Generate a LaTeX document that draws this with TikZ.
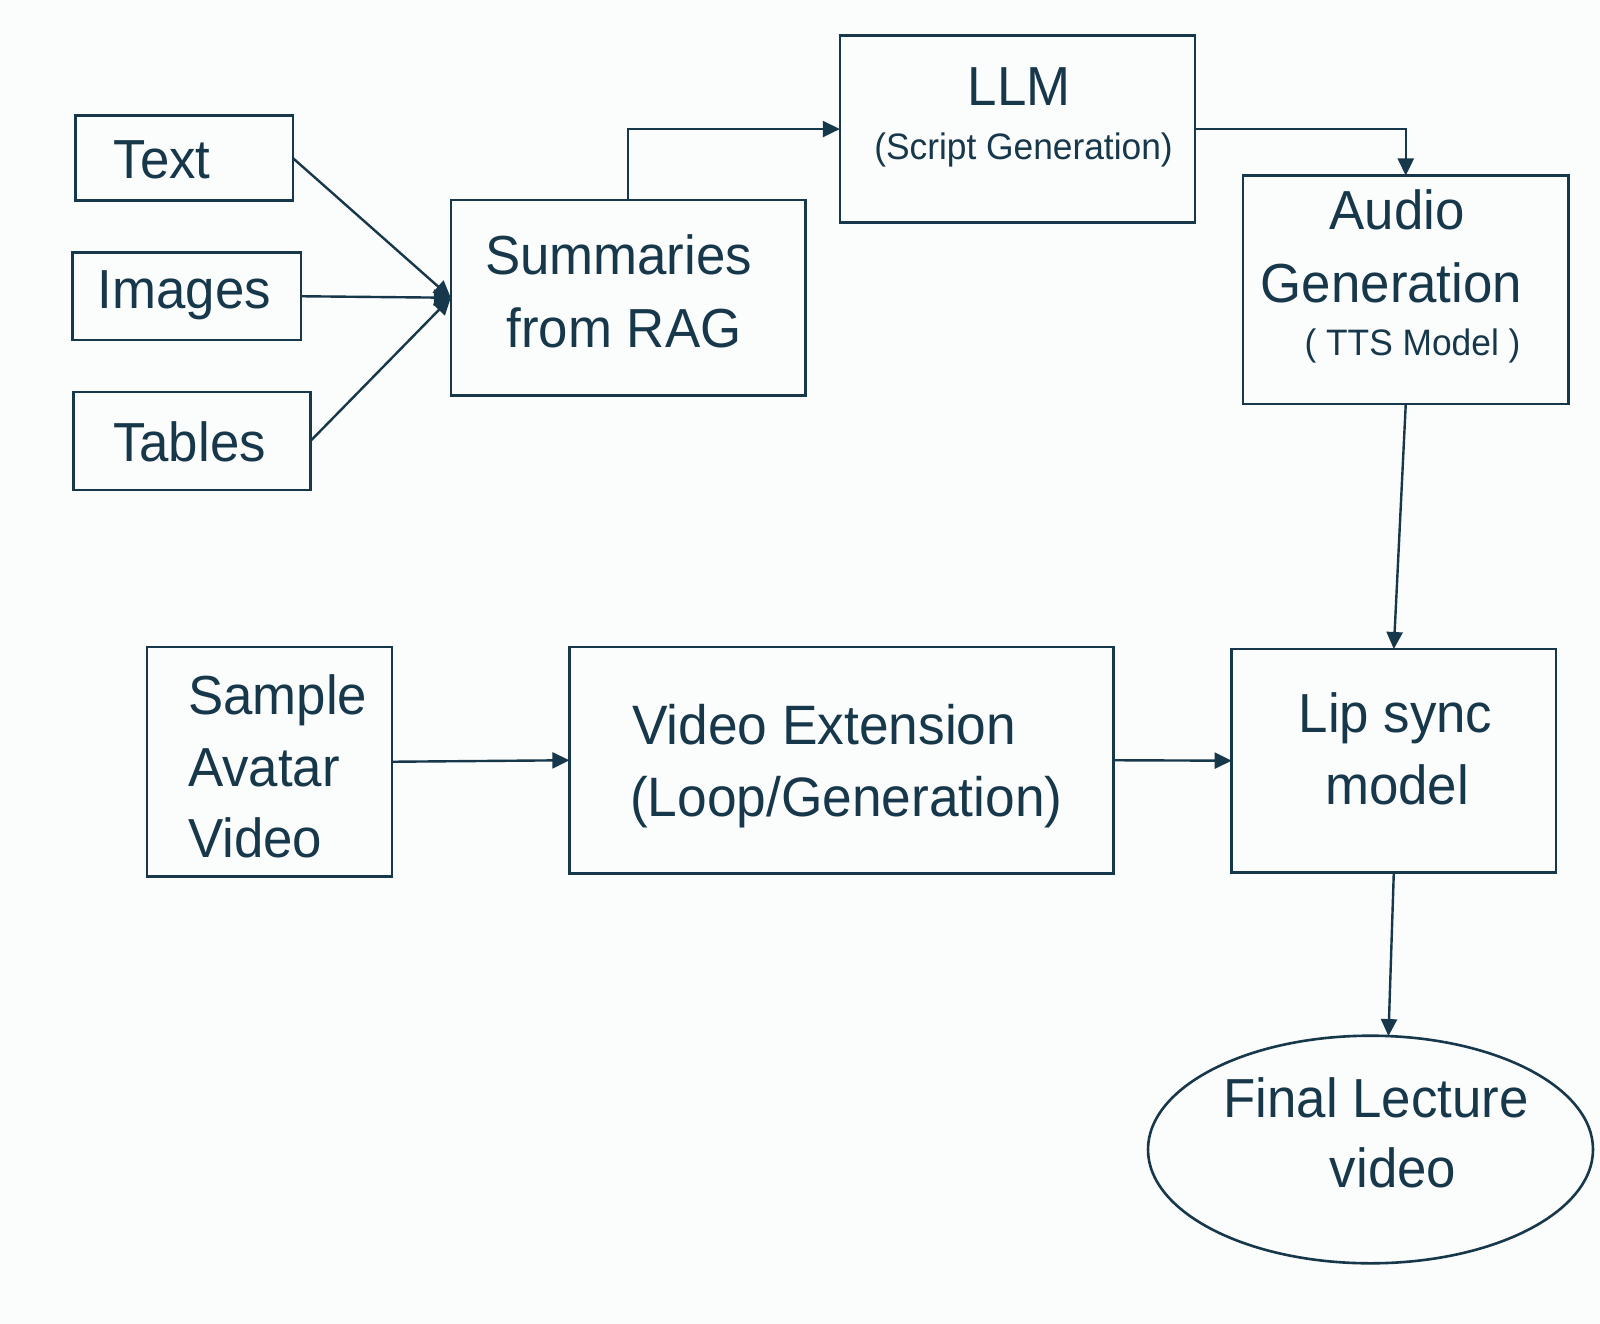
\documentclass[tikz,border=0pt]{standalone}
\usepackage{fontspec}
\setmainfont{Liberation Sans}[FakeStretch=0.96]
\usetikzlibrary{arrows.meta,shapes.geometric}
\definecolor{ink}{HTML}{17374A}
\definecolor{bg}{HTML}{FBFCFC}
\begin{document}
\begin{tikzpicture}[x=1pt,y=-1pt,
  box/.style={draw=ink, line width=2.6pt, rectangle, inner sep=0pt, outer sep=0pt},
  oval/.style={draw=ink, line width=2.6pt, ellipse, inner sep=0pt, outer sep=0pt},
  big/.style={text=ink, inner sep=0pt, font=\fontsize{55pt}{66pt}\selectfont},
  vbig/.style={text=ink, inner sep=0pt, font=\fontsize{55.5pt}{67pt}\selectfont},
  small/.style={text=ink, inner sep=0pt, font=\fontsize{36.8pt}{44pt}\selectfont},
  arr/.style={draw=ink, line width=2.4pt, -{Triangle[length=17pt,width=16pt]}}]
\fill[bg] (0,0) rectangle (1600,1324);
\useasboundingbox (0,0) rectangle (1600,1324);

% boxes
\node[box, minimum width=217.3pt, minimum height=85pt]   (txt) at (184.15,158) {};
\node[box, minimum width=228.4pt, minimum height=87.5pt] (img) at (186.6,296.25) {};
\node[box, minimum width=237pt,   minimum height=98pt]   (tab) at (192,441) {};
\node[box, minimum width=354.4pt, minimum height=195.5pt] (sum) at (628,297.75) {};
\node[box, minimum width=355.2pt, minimum height=186.7pt] (llm) at (1017.4,129.05) {};
\node[box, minimum width=325.5pt, minimum height=228.5pt] (aud) at (1405.75,289.75) {};
\node[box, minimum width=244.8pt, minimum height=229.5pt] (smp) at (269.4,761.75) {};
\node[box, minimum width=543.9pt, minimum height=226.5pt] (vid) at (841.35,760.25) {};
\node[box, minimum width=324.4pt, minimum height=223.4pt] (lip) at (1393.8,760.7) {};
\node[oval, minimum width=445pt, minimum height=227.6pt] (fin) at (1370.5,1149.5) {};

% texts
\node[big, anchor=base] (tTxt) at (162,178.6) {Text};
\node[big, anchor=base] (tImg) at (184.5,308) {Images};
\node[big, anchor=base] (tTab) at (189.5,461) {Tables};
\node[big, anchor=base] (tSum1) at (618.5,274.5) {Summaries};
\node[big, anchor=base] (tSum2) at (624,347) {from RAG};
\node[big, anchor=base] (tLlm1) at (1019,106) {LLM};
\node[small, anchor=base] (tLlm2) at (1023.5,160) {(Script Generation)};
\node[big, anchor=base] (tAud1) at (1397,229.6) {Audio};
\node[big, anchor=base] (tAud2) at (1391.5,302) {Generation};
\node[small, anchor=base] (tAud3) at (1412.5,355) {( TTS Model )};
\node[big, anchor=base west] (tSmp1) at (188,714) {Sample};
\node[big, anchor=base west] (tSmp2) at (188,786) {Avatar};
\node[big, anchor=base west] (tSmp3) at (188,857) {Video};
\node[vbig, anchor=base west] (tVid1) at (632,744) {Video Extension};
\node[vbig, anchor=base west] (tVid2) at (630,816) {(Loop/Generation)};
\node[big, anchor=base] (tLip1) at (1395.5,732.6) {Lip sync};
\node[big, anchor=base] (tLip2) at (1397,804) {model};
\node[big, anchor=base] (tFin1) at (1376,1117) {Final Lecture};
\node[big, anchor=base] (tFin2) at (1393,1187) {video};

% connectors
\draw[arr] (txt.east) -- (sum.west);
\draw[arr] (img.east) -- (sum.west);
\draw[arr] (tab.east) -- (sum.west);
\draw[arr] (sum.north) |- (llm.west);
\draw[arr] (llm.east) -| (aud.north);
\draw[arr] (aud.south) -- (lip.north);
\draw[arr] (smp.east) -- (vid.west);
\draw[arr] (vid.east) -- (lip.west);
\draw[arr] (lip.south) -- (fin.81);
\end{tikzpicture}
\end{document}
